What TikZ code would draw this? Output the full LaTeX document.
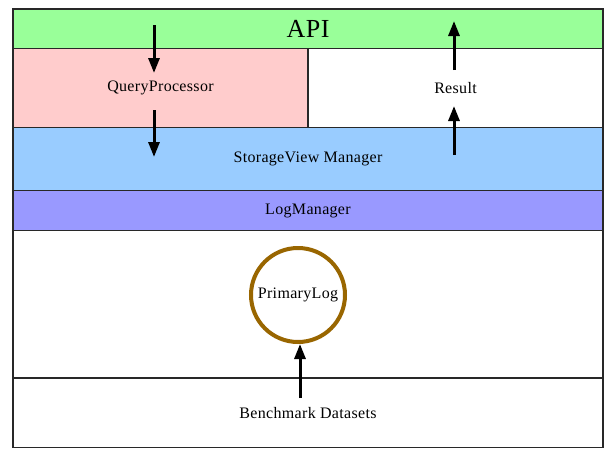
\documentclass[tikz,border=0pt]{standalone}
\usepackage{fontspec}
\setmainfont{Liberation Serif}[LetterSpace=2]
\usetikzlibrary{arrows.meta}

\definecolor{apigreen}{RGB}{153,255,153}
\definecolor{querypink}{RGB}{255,204,204}
\definecolor{storageblue}{RGB}{153,204,255}
\definecolor{logpurple}{RGB}{153,153,255}
\definecolor{logbrown}{RGB}{153,102,0}
\definecolor{edgegray}{RGB}{40,40,40}

\begin{document}
\begin{tikzpicture}[x=1pt,y=-1pt,
  layer/.style={draw=edgegray, line width=1.2pt, shape=rectangle, inner sep=0pt,
    font=\fontsize{16}{19}\selectfont},
  flow/.style={line width=3pt, -{Triangle[length=15pt,width=11pt]}}]

\useasboundingbox (0,0) rectangle (614,461);

\node[layer, fill=apigreen, minimum width=590pt, minimum height=39.5pt,
  font=\fontsize{26}{30}\selectfont] (api) at (308,28.75) {API};
\node[layer, fill=querypink, minimum width=295pt, minimum height=79pt] (query) at (160.5,88) {QueryProcessor};
\node[layer, fill=white, minimum width=295pt, minimum height=79pt] (result) at (455.5,88) {Result};
\node[layer, fill=storageblue, minimum width=590pt, minimum height=63pt] (storage) at (308,159) {StorageView Manager};
\node[layer, fill=logpurple, minimum width=590pt, minimum height=40pt] (logmanager) at (308,210.5) {LogManager};
\node[layer, fill=white, minimum width=590pt, minimum height=147.5pt] (logarea) at (308,304.25) {};
\node[layer, fill=white, minimum width=590pt, minimum height=69.5pt] (bench) at (308,412.75) {Benchmark Datasets};

\node[draw=logbrown, line width=4pt, shape=circle, minimum size=94pt, inner sep=0pt,
  font=\fontsize{16}{19}\selectfont] (primary) at (298,295) {PrimaryLog};

\coordinate (q1) at (154,25);
\coordinate (q2) at (154,73);
\coordinate (q3) at (154,110);
\coordinate (q4) at (154,157);
\coordinate (r1) at (454,70);
\coordinate (r2) at (454,21);
\coordinate (r3) at (454,155);
\coordinate (r4) at (454,106);
\coordinate (b1) at (300,398);

\draw[flow] (q1) -- (q2);
\draw[flow] (q3) -- (q4);
\draw[flow] (r1) -- (r2);
\draw[flow] (r3) -- (r4);
\draw[flow] (b1) -- (primary.south -| b1);

\end{tikzpicture}
\end{document}
